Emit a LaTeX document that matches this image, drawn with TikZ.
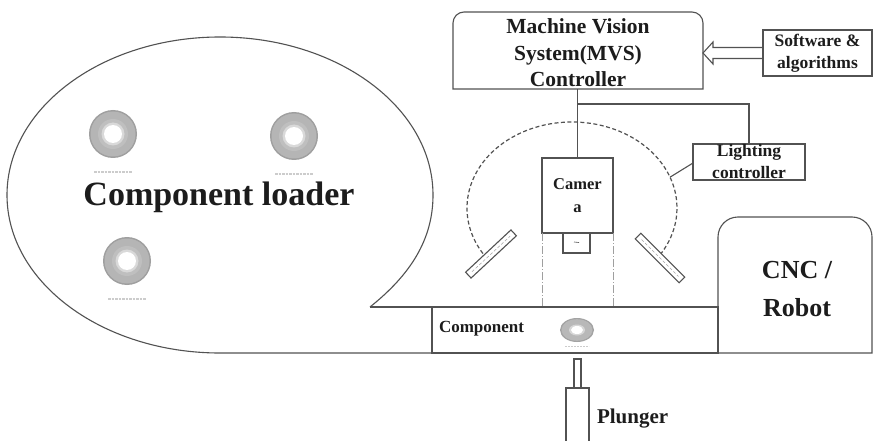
\documentclass[tikz,border=0pt]{standalone}
\usepackage{fontspec}
\setmainfont{Liberation Serif}
\usetikzlibrary{calc}
\definecolor{lineC}{RGB}{82,82,82}
\definecolor{txtC}{RGB}{28,28,28}
\begin{document}
\begin{tikzpicture}[x=1pt,y=-1pt,
  ln/.style={draw=lineC, line width=1.1pt},
  base/.style={inner sep=0pt, outer sep=0pt},
  plainbox/.style={base, ln, rectangle},
  lbl/.style={base, text=txtC, align=center},
  panel/.style={base, ln, rectangle, minimum width=62pt, minimum height=8pt, fill=white},
  dashdot/.style={draw=gray!75, line width=0.8pt, dash pattern=on 8pt off 2pt on 1pt off 2pt},
  paneldash/.style={draw=gray!70, line width=0.6pt, dash pattern=on 3pt off 2pt},
  washer/.pic={
    \fill[gray!75] (0,0) circle (24);
    \fill[gray!58] (0,0) circle (22.5);
    \fill[gray!50] (0,0) circle (15);
    \fill[gray!30] (0,0) circle (11.5);
    \fill[white] (0,0) circle (9);
    \draw[gray!40, line width=1.2pt, dash pattern=on 2.5pt off 1pt] (-19,38) -- (19,38);
  },
  smallwasher/.pic={
    \fill[gray!72] (0,0) ellipse [x radius=17, y radius=12];
    \fill[gray!56] (0,0) ellipse [x radius=15.5, y radius=10.8];
    \fill[gray!32] (0,0) ellipse [x radius=8, y radius=5.5];
    \fill[white] (0,0) ellipse [x radius=6, y radius=4];
    \draw[gray!40, line width=1pt, dash pattern=on 2pt off 1pt] (-12,16) -- (12,16);
  }
]
\useasboundingbox (0,0) rectangle (873,441);
\fill[white] (0,0) rectangle (873,441);

% component conveyor and loader bubble
\node[plainbox, minimum width=286pt, minimum height=46pt] (comp) at (575,330) {};
\coordinate (tail) at (370,307);
\draw[ln] (tail) .. controls (410,275) and (433,240) .. (433,195)
  arc[start angle=0, end angle=-270, x radius=213, y radius=158] -- (comp.south west);
\draw[ln] (tail) -- (comp.north west);
\node[lbl, font=\bfseries\fontsize{17}{20}\selectfont, anchor=base west] (comptxt) at (439,332) {Component};
\pic at (577,330) {smallwasher};

\pic at (113,134) {washer};
\pic at (294,136) {washer};
\pic at (127,261) {washer};
\node[lbl, font=\bfseries\fontsize{34}{38}\selectfont, anchor=base] (loader) at (219,205) {Component loader};

% CNC / robot cell
\node[base, minimum width=154pt, minimum height=136pt] (cnc) at (795,285) {};
\draw[ln] (cnc.south west) -- ($(cnc.north west)+(0,20)$)
  arc[start angle=180, end angle=270, radius=20] -- ($(cnc.north east)+(-20,0)$)
  arc[start angle=270, end angle=360, radius=20] -- (cnc.south east) -- cycle;
\node[lbl, font=\bfseries\fontsize{26}{38}\selectfont] (cnctxt) at (797,289) {CNC /\\Robot};

% machine vision controller
\node[base, minimum width=250pt, minimum height=77pt] (mvs) at (578,50.5) {};
\draw[ln] (mvs.south west) -- ($(mvs.north west)+(0,11)$)
  arc[start angle=180, end angle=270, radius=11] -- ($(mvs.north east)+(-11,0)$)
  arc[start angle=270, end angle=360, radius=11] -- (mvs.south east) -- cycle;
\node[lbl, font=\bfseries\fontsize{21.5}{26.5}\selectfont] (mvstxt) at (578,53) {Machine Vision\\System(MVS)\\Controller};

% software input
\node[plainbox, lbl, minimum width=109pt, minimum height=46pt,
  font=\bfseries\fontsize{17.5}{22}\selectfont] (sw) at (817.5,53) {Software \&\\algorithms};
\draw[ln, line join=miter]
  ($(sw.west)+(0,-5.5)$) -- ($(mvs.east|-sw.west)+(10,-5.5)$)
  -- ($(mvs.east|-sw.west)+(10,-11)$) -- (mvs.east|-sw.west)
  -- ($(mvs.east|-sw.west)+(10,11)$) -- ($(mvs.east|-sw.west)+(10,5.5)$)
  -- ($(sw.west)+(0,5.5)$);

% camera
\node[plainbox, lbl, minimum width=71pt, minimum height=75pt,
  font=\bfseries\fontsize{16.5}{23}\selectfont] (cam) at (577.5,195.5) {Camer\\a};
\node[plainbox, minimum width=27pt, minimum height=20pt, anchor=north] (lens) at ([xshift=-1pt]cam.south) {};
\draw[lineC, line width=0.6pt] ($(lens.center)+(-2.5,-1)$) -- ($(lens.center)+(2.5,-0.5)$);
\draw[ln] (cam.north) -- (cam.north |- mvs.south);
\draw[dashdot] (cam.south west) -- (cam.south west |- comp.north);
\draw[dashdot] (cam.south east) -- (cam.south east |- comp.north);

% lighting
\node[plainbox, lbl, minimum width=112pt, minimum height=36pt,
  font=\bfseries\fontsize{17.5}{22}\selectfont] (light) at (749,162) {Lighting\\controller};
\coordinate (branch) at ($(cam.north |- mvs.south)+(0,15)$);
\draw[ln] (branch) -| (light.north);
\coordinate (lc) at (572,208);
\draw[draw=lineC, line width=1.2pt, dash pattern=on 4pt off 2.5pt]
  ($(lc)+(148:105 and 86)$) arc[start angle=148, end angle=392, x radius=105, y radius=86];
\coordinate (hook) at ($(lc)+(-21:105 and 86)$);
\draw[ln] ([yshift=-1pt]light.west) -- (hook);
\node[panel, rotate=43] (pl) at (491,254) {};
\node[panel, rotate=-45] (pr) at (660,258) {};
\draw[paneldash] ($(pl.west)!0.08!(pl.east)$) -- ($(pl.west)!0.92!(pl.east)$);
\draw[paneldash] ($(pr.west)!0.08!(pr.east)$) -- ($(pr.west)!0.92!(pr.east)$);

% plunger
\node[plainbox, minimum width=7pt, minimum height=29pt] (rod) at (577.5,373.5) {};
\node[plainbox, minimum width=23pt, minimum height=60pt, anchor=north] (body) at (rod.south) {};
\node[lbl, font=\bfseries\fontsize{21}{24}\selectfont, anchor=base west] (plungertxt) at (597,423) {Plunger};
\end{tikzpicture}
\end{document}
